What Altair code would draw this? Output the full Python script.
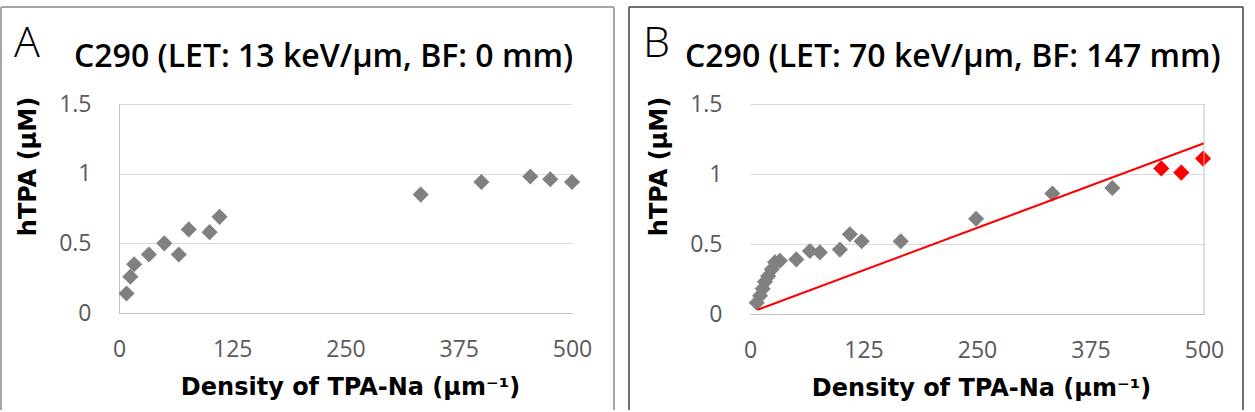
import altair as alt
import pandas as pd

# Panel A: C290 (LET 13 keV/um, BF 0 mm)
a_density = [8.3, 12.5, 16.7, 33, 50, 66, 77, 100, 111, 333, 400, 454, 476, 500]
a_htpa = [0.14, 0.26, 0.35, 0.42, 0.50, 0.42, 0.60, 0.58, 0.69, 0.85, 0.94, 0.98, 0.96, 0.94]

# Panel B: C290 (LET 70 keV/um, BF 147 mm)
b_density = [7.4, 11, 14, 16.5, 20, 24, 27.5, 33, 51, 66, 77, 99, 110, 123, 166, 249, 333, 399]
b_htpa = [0.08, 0.13, 0.18, 0.23, 0.27, 0.32, 0.37, 0.38, 0.39, 0.45, 0.44, 0.46,
          0.57, 0.52, 0.52, 0.68, 0.86, 0.90]
b_high_density = [453, 475, 499]
b_high_htpa = [1.04, 1.01, 1.11]
fit_density = [8.3, 500]
fit_htpa = [0.03, 1.22]

panel_letters = ["A", "B"]
panel_titles = ["C290 (LET: 13 keV/\u00b5m, BF: 0 mm)", "C290 (LET: 70 keV/\u00b5m, BF: 147 mm)"]
x_ticks = [0, 125, 250, 375, 500]
y_ticks = [0, 0.5, 1, 1.5]
x_title = "Density of TPA-Na (\u00b5m\u207b\u00b9)"
y_title = "hTPA (\u00b5M)"

GRAY = "#808080"
RED = "#ff0000"
MARKER_SIZE = 260
one_row = pd.DataFrame({"k": [0]})


def x_enc(field):
    return alt.X(
        f"{field}:Q",
        scale=alt.Scale(domain=[0, 500], nice=False, zero=False),
        axis=alt.Axis(
            values=x_ticks, grid=False, ticks=False, tickSize=0,
            domainColor="#bfbfbf", domainWidth=1,
            labelFont="Open Sans", labelFontSize=23, labelColor="#595959",
            labelPadding=36, labelBaseline="middle", labelFlush=False,
            title=x_title, titleFont="DejaVu Sans", titleFontSize=24,
            titleFontWeight="bold", titleColor="#000000",
            titleX=231, titleY=74, titleAlign="center", titleBaseline="middle",
        ),
    )


def y_enc(field, left_line):
    return alt.Y(
        f"{field}:Q",
        scale=alt.Scale(domain=[0, 1.5], nice=False, zero=False),
        axis=alt.Axis(
            values=y_ticks, grid=True, gridColor="#d9d9d9", gridWidth=1,
            ticks=False, tickSize=0, domain=left_line,
            domainColor="#bfbfbf", domainWidth=1,
            labelFont="Open Sans", labelFontSize=23, labelColor="#595959",
            labelPadding=28, labelExpr="'' + datum.value",
            title=y_title, titleFont="DejaVu Sans", titleFontSize=24,
            titleFontWeight="bold", titleColor="#000000",
            titleAngle=270, titleX=-91, titleY=62,
            titleAlign="center", titleBaseline="middle",
        ),
    )


def rule(x1, x2, y1, y2, color, width):
    return alt.Chart(one_row).mark_rule(color=color, strokeWidth=width).encode(
        x=alt.value(x1), x2=alt.value(x2), y=alt.value(y1), y2=alt.value(y2)
    )


def frame(left, right, top, bottom, color, width):
    return [
        rule(left, right, top, top, color, width),
        rule(left, left, top, bottom, color, width),
        rule(right, right, top, bottom, color, width),
    ]


def heading(idx, letter_x, title_x):
    letter = alt.Chart(pd.DataFrame({"t": [panel_letters[idx]]})).mark_text(
        font="Open Sans", fontSize=43, fontWeight=300, color="#000000",
        align="left", baseline="alphabetic",
    ).encode(text="t:N", x=alt.value(letter_x), y=alt.value(-47))
    title = alt.Chart(pd.DataFrame({"t": [panel_titles[idx]]})).mark_text(
        font="Open Sans", fontSize=32, fontWeight=600, color="#000000",
        align="left", baseline="alphabetic",
    ).encode(text="t:N", x=alt.value(title_x), y=alt.value(-37))
    return [letter, title]


# ---- Panel A ----
df_a = pd.DataFrame({"density": a_density, "htpa": a_htpa})
points_a = alt.Chart(df_a).mark_point(
    shape="diamond", filled=True, size=MARKER_SIZE, color=GRAY, opacity=1
).encode(x=x_enc("density"), y=y_enc("htpa", True))

panel_a = alt.layer(
    points_a,
    *heading(0, -105, -45),
    *frame(-118, 495, -97, 306, "#a6a6a6", 2),
).properties(width=453, height=209)

# ---- Panel B ----
df_b = pd.DataFrame({"density": b_density, "htpa": b_htpa})
df_b_high = pd.DataFrame({"density": b_high_density, "htpa": b_high_htpa})
df_fit = pd.DataFrame({"density": fit_density, "htpa": fit_htpa})

points_b = alt.Chart(df_b).mark_point(
    shape="diamond", filled=True, size=MARKER_SIZE, color=GRAY, opacity=1
).encode(x=x_enc("density"), y=y_enc("htpa", False))
points_b_high = alt.Chart(df_b_high).mark_point(
    shape="diamond", filled=True, size=MARKER_SIZE, color=RED, opacity=1
).encode(x="density:Q", y="htpa:Q")
fit_b = alt.Chart(df_fit).mark_line(color=RED, strokeWidth=2).encode(
    x="density:Q", y="htpa:Q"
)
right_edge_b = rule(454, 454, 0, 210, "#bfbfbf", 1)

panel_b = alt.layer(
    points_b,
    points_b_high,
    fit_b,
    right_edge_b,
    *heading(1, -107, -65),
    *frame(-121, 493, -97, 306, "#404040", 1.5),
).properties(width=454, height=210)

chart = alt.hconcat(panel_a, panel_b, spacing=13).properties(
    padding={"left": 0, "top": 6, "right": 0, "bottom": 0},
    background="white",
).configure_view(stroke=None)

chart.save("out.html", embed_options={"renderer": "svg", "actions": False})
